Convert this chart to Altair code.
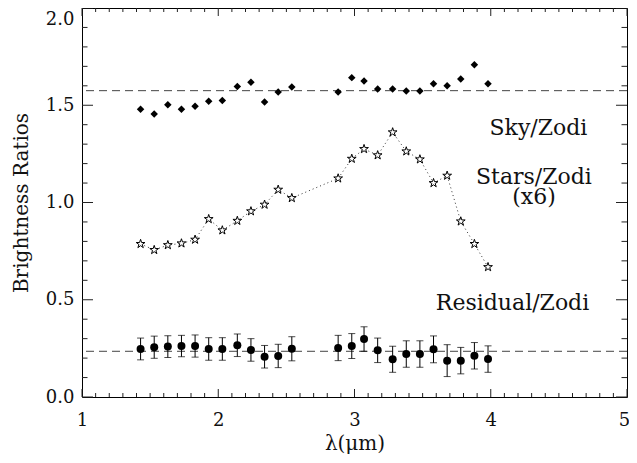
import altair as alt
import pandas as pd

# ---- data ----
lam = [1.43, 1.53, 1.63, 1.73, 1.83, 1.93, 2.03, 2.14, 2.24, 2.34, 2.44, 2.54,
       2.88, 2.98, 3.07, 3.17, 3.28, 3.38, 3.48, 3.58, 3.68, 3.78, 3.88, 3.98]
sky = [1.480, 1.455, 1.503, 1.479, 1.495, 1.520, 1.525, 1.597, 1.618, 1.517, 1.568, 1.594,
       1.568, 1.642, 1.625, 1.583, 1.583, 1.573, 1.573, 1.611, 1.600, 1.635, 1.708, 1.611]
stars = [0.787, 0.756, 0.781, 0.790, 0.809, 0.915, 0.857, 0.906, 0.955, 0.989, 1.066, 1.023,
         1.124, 1.225, 1.275, 1.243, 1.361, 1.263, 1.222, 1.100, 1.138, 0.903, 0.787, 0.668]
resid = [0.247, 0.256, 0.259, 0.262, 0.262, 0.247, 0.247, 0.266, 0.242, 0.207, 0.211, 0.248,
         0.252, 0.262, 0.298, 0.240, 0.194, 0.221, 0.221, 0.245, 0.187, 0.187, 0.212, 0.195]
err = [0.056, 0.057, 0.056, 0.055, 0.057, 0.058, 0.058, 0.058, 0.058, 0.058, 0.060, 0.062,
       0.065, 0.064, 0.063, 0.063, 0.067, 0.068, 0.068, 0.069, 0.082, 0.068, 0.068, 0.068]

ref_levels = [1.575, 0.235]

labels = ["Sky/Zodi", "Stars/Zodi\n(x6)", "Residual/Zodi"]
label_x = [4.350, 4.317, 4.160]
label_y = [1.347, 1.095, 0.447]

x_major = [1, 2, 3, 4, 5]
x_minor = [round(1 + i / 10, 1) for i in range(1, 40) if i % 10 != 0]
y_major = [0.0, 0.5, 1.0, 1.5, 2.0]
y_minor = [round(i / 10, 1) for i in range(1, 20) if i % 5 != 0]

W, H = 545, 389
XMIN, XMAX, YMIN, YMAX = 1, 5, 0, 2
PX_X = (XMAX - XMIN) / W   # data units per pixel
PX_Y = (YMAX - YMIN) / H
FONT = "DejaVu Serif"
TICK = "#222"
INK = "#111"
STAR = ("M0,-1L0.2234,-0.3074L0.9511,-0.309L0.3614,0.1174L0.5878,0.809L0,0.38"
        "L-0.5878,0.809L-0.3614,0.1174L-0.9511,-0.309L-0.2234,-0.3074Z")

# ---- tables ----
df = pd.DataFrame({"lam": lam, "sky": sky, "stars": stars, "resid": resid, "err": err})
df["lo"] = df["resid"] - df["err"]
df["hi"] = df["resid"] + df["err"]
lv = pd.DataFrame({"v": ref_levels})
tx = pd.DataFrame({"lx": label_x, "ly": label_y, "label": labels})

# inward tick marks: one row per tick, centre position and length (pixels)
tk_rows = []
for vals, ln in [(x_major, 8), (x_minor, 4)]:
    for v in vals:
        for edge, sgn in [(YMIN, 1), (YMAX, -1)]:
            tk_rows.append({"tx": v, "ty": edge + sgn * ln / 2 * PX_Y, "len": ln,
                            "ang": 90})
for vals, ln in [(y_major, 11), (y_minor, 5.5)]:
    for v in vals:
        for edge, sgn in [(XMIN, 1), (XMAX, -1)]:
            tk_rows.append({"tx": edge + sgn * ln / 2 * PX_X, "ty": v, "len": ln,
                            "ang": 0})
tk = pd.DataFrame(tk_rows)
tk["sz"] = tk["len"] ** 2

xs = alt.Scale(domain=[XMIN, XMAX], nice=False, zero=False)
ys = alt.Scale(domain=[YMIN, YMAX], nice=False, zero=False)

lab = dict(labelFont=FONT, labelFontSize=18, labelColor=INK, domain=False, grid=False,
           ticks=False, tickSize=0, labelFlush=False)
tit = dict(titleFont=FONT, titleFontSize=20, titleFontWeight="normal", titleColor=INK)

ax_x_main = alt.Axis(orient="bottom", values=x_major[:-1], format="d", labelPadding=14,
                     title="λ(μm)", titlePadding=4, **lab, **tit)
ax_x_end = alt.Axis(orient="bottom", values=x_major[-1:], format="d", labelPadding=14,
                    labelOffset=-3, title=None, **lab)
ax_y_main = alt.Axis(orient="left", values=y_major[:-1], format=".1f", labelPadding=8,
                     title="Brightness Ratios", titlePadding=14, **lab, **tit)
ax_y_end = alt.Axis(orient="left", values=y_major[-1:], format=".1f", labelPadding=8,
                    labelBaseline="top", labelOffset=2, title=None, **lab)

ticks = alt.Chart(tk).mark_point(shape="stroke", strokeWidth=1, color=TICK,
                                 opacity=1).encode(
    x=alt.X("tx:Q", scale=xs, axis=None),
    y=alt.Y("ty:Q", scale=ys, axis=None),
    size=alt.Size("sz:Q", scale=None, legend=None),
    angle=alt.Angle("ang:Q", scale=None, legend=None),
)

base = alt.Chart(df)

sky_pts = base.mark_point(shape="diamond", filled=True, size=56, color="black",
                          opacity=1).encode(
    x=alt.X("lam:Q", scale=xs, axis=ax_x_main),
    y=alt.Y("sky:Q", scale=ys, axis=ax_y_main),
)

stars_line = base.mark_line(strokeDash=[1, 3], color="#333", strokeWidth=1).encode(
    x=alt.X("lam:Q", scale=xs, axis=None),
    y=alt.Y("stars:Q", scale=ys, axis=None),
)

stars_pts = base.mark_point(shape=STAR, filled=True, fill="white", stroke="black",
                            strokeWidth=1, size=85, opacity=1).encode(
    x=alt.X("lam:Q", scale=xs, axis=ax_x_end),
    y=alt.Y("stars:Q", scale=ys, axis=ax_y_end),
)

bars = base.mark_rule(color="black", strokeWidth=1).encode(
    x=alt.X("lam:Q", scale=xs, axis=None),
    y=alt.Y("lo:Q", scale=ys, axis=None),
    y2="hi:Q",
)

cap_lo = base.mark_tick(orient="horizontal", size=7, thickness=1, color="black").encode(
    x=alt.X("lam:Q", scale=xs, axis=None),
    y=alt.Y("lo:Q", scale=ys, axis=None),
)
cap_hi = base.mark_tick(orient="horizontal", size=7, thickness=1, color="black").encode(
    x=alt.X("lam:Q", scale=xs, axis=None),
    y=alt.Y("hi:Q", scale=ys, axis=None),
)

resid_pts = base.mark_circle(size=64, color="black", opacity=1).encode(
    x=alt.X("lam:Q", scale=xs, axis=None),
    y=alt.Y("resid:Q", scale=ys, axis=None),
)

levels = alt.Chart(lv).mark_rule(strokeDash=[8, 5], color="#444", strokeWidth=1).encode(
    y=alt.Y("v:Q", scale=ys, axis=None),
)

texts = alt.Chart(tx).mark_text(font=FONT, fontSize=22, align="center",
                                baseline="alphabetic", lineBreak="\n", lineHeight=20,
                                color=INK).encode(
    x=alt.X("lx:Q", scale=xs, axis=None),
    y=alt.Y("ly:Q", scale=ys, axis=None),
    text="label:N",
)

chart = alt.layer(
    levels, stars_line, stars_pts, sky_pts, bars, cap_lo, cap_hi, resid_pts, texts, ticks,
).resolve_axis(x="independent", y="independent").properties(
    width=W,
    height=H,
    autosize=alt.AutoSizeParams(type="none"),
    padding={"left": 74, "top": 0, "right": 2, "bottom": 58},
    background="white",
).configure_view(stroke="black", strokeWidth=1)

chart.save("out.html", embed_options={"renderer": "svg", "actions": False})
